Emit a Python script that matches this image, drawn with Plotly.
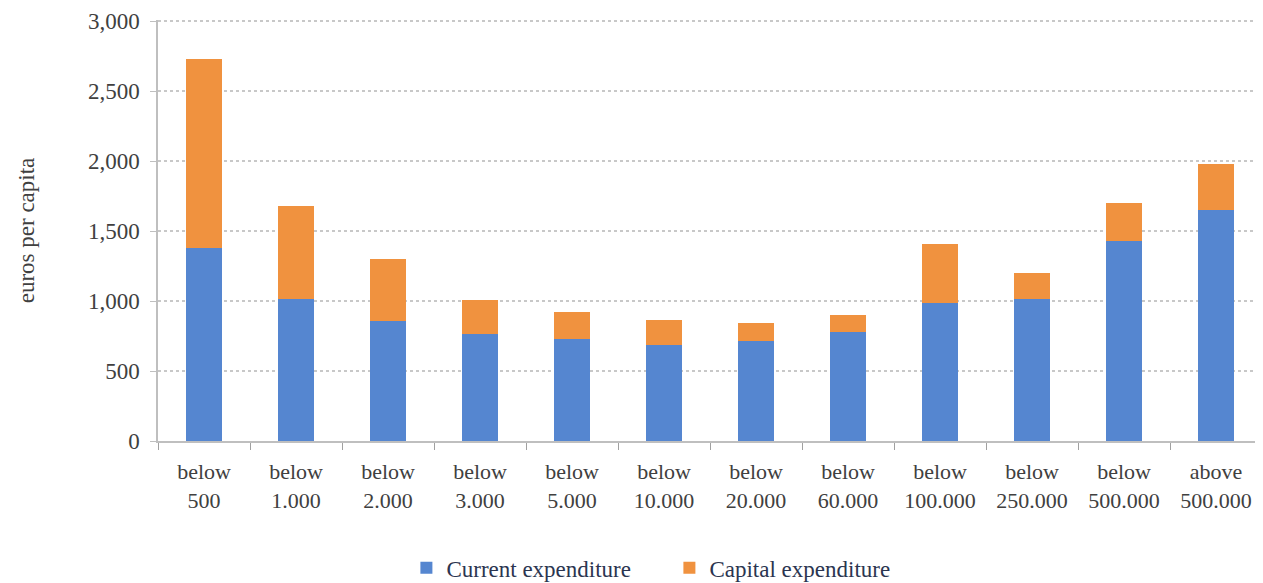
import plotly.graph_objects as go

categories = ["below<br>500", "below<br>1.000", "below<br>2.000", "below<br>3.000",
              "below<br>5.000", "below<br>10.000", "below<br>20.000", "below<br>60.000",
              "below<br>100.000", "below<br>250.000", "below<br>500.000", "above<br>500.000"]
current = [1383, 1012, 856, 763, 730, 689, 718, 782, 984, 1015, 1433, 1652]
capital = [1348, 671, 442, 247, 190, 174, 123, 119, 423, 188, 271, 325]

font_family = "Liberation Serif"
text_color = "#404040"
fsize = 23

fig = go.Figure()
fig.add_trace(go.Bar(x=categories, y=current, name="Current expenditure",
                     marker=dict(color="#5586D0", line=dict(width=0))))
fig.add_trace(go.Bar(x=categories, y=capital, name="Capital expenditure",
                     marker=dict(color="#F0923F", line=dict(width=0))))

# page body has an 8px margin, so the figure is sized to fit inside the window
fig.update_layout(
    barmode="stack",
    bargap=0.6,
    width=1255, height=575,
    margin=dict(l=150, r=1, t=12, b=142, autoexpand=False),
    paper_bgcolor="white", plot_bgcolor="white",
    font=dict(family=font_family, size=fsize, color=text_color),
    legend=dict(orientation="h", x=0.225, xanchor="left", xref="paper",
                y=-0.25, yanchor="top", font=dict(size=fsize, color="#2b3550"),
                itemwidth=30, traceorder="normal",
                entrywidth=218, entrywidthmode="pixels"),
    showlegend=True,
)
fig.update_xaxes(
    automargin=False,
    showline=True, linecolor="#bfbfbf", linewidth=1.5,
    ticks="outside", tickson="boundaries", ticklen=7, tickcolor="#a0a0a0",
    showgrid=False, tickfont=dict(size=22, color=text_color),
    ticklabelstandoff=10,
)
fig.update_yaxes(
    automargin=False,
    range=[0, 3010], tickvals=[0, 500, 1000, 1500, 2000, 2500, 3000],
    tickformat=",", showline=True, linecolor="#bfbfbf", linewidth=1.5,
    ticks="outside", ticklen=6, tickcolor="#bfbfbf",
    showgrid=True, gridcolor="#c8c8c8", griddash="dot", gridwidth=1.5,
    zeroline=False, ticklabelstandoff=6,
    title=dict(text="euros per capita", font=dict(size=fsize, color=text_color), standoff=47),
    tickfont=dict(size=fsize, color=text_color),
)

fig.write_html("out.html")
